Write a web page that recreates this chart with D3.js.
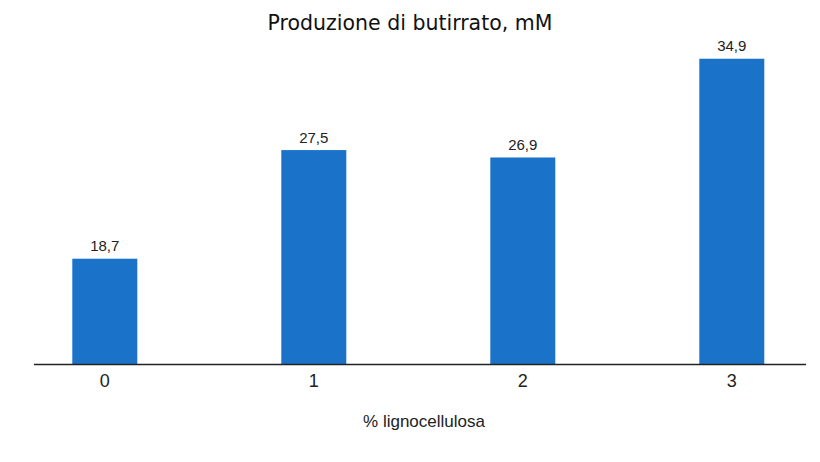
<!DOCTYPE html>
<html>
<head>
<meta charset="utf-8">
<script src="https://cdn.jsdelivr.net/npm/d3@7"></script>
<style>
  body { margin: 0; background: #fff; }
</style>
</head>
<body>
<svg id="chart"></svg>
<script>
const categories = ["0", "1", "2", "3"];
const values = [18.7, 27.5, 26.9, 34.9];
const valueLabels = ["18,7", "27,5", "26,9", "34,9"];
const title = "Produzione di butirrato, mM";
const xTitle = "% lignocellulosa";

const width = 820;
const height = 462;
const axisY = 364.5;

const svg = d3.select("#chart").attr("width", width).attr("height", height);

const xScale = d3
  .scaleBand()
  .domain(categories)
  .range([0.3, 836.3])
  .paddingInner(0.689)
  .paddingOuter(0.3445);

const yScale = d3.scaleLinear().domain([10, 35]).range([366.1, 57.5]);

// title
svg
  .append("text")
  .attr("x", 410)
  .attr("y", 30)
  .attr("text-anchor", "middle")
  .attr("font-family", "DejaVu Sans, sans-serif")
  .attr("font-size", 20.5)
  .attr("fill", "#111")
  .text(title);

// bars
svg
  .selectAll("rect.bar")
  .data(values)
  .join("rect")
  .attr("class", "bar")
  .attr("x", (_, i) => xScale(categories[i]))
  .attr("y", (d) => yScale(d))
  .attr("width", xScale.bandwidth())
  .attr("height", (d) => axisY - yScale(d))
  .attr("fill", "#1a73c9");

// value labels
svg
  .selectAll("text.val")
  .data(values)
  .join("text")
  .attr("class", "val")
  .attr("x", (_, i) => xScale(categories[i]) + xScale.bandwidth() / 2)
  .attr("y", (d) => yScale(d) - 7.5)
  .attr("text-anchor", "middle")
  .attr("font-family", "Liberation Sans, Arial, sans-serif")
  .attr("font-size", 15)
  .attr("fill", "#222")
  .text((_, i) => valueLabels[i]);

// x axis
const xAxis = svg
  .append("g")
  .attr("transform", `translate(0,${axisY})`)
  .call(d3.axisBottom(xScale).tickSize(0).tickPadding(10));
xAxis.select(".domain").attr("d", "M34,0H806").attr("stroke", "#222").attr("stroke-width", 1.3);
xAxis
  .selectAll("text")
  .attr("font-family", "Liberation Sans, Arial, sans-serif")
  .attr("font-size", 18)
  .attr("fill", "#222");

// x title
svg
  .append("text")
  .attr("x", 424)
  .attr("y", 427)
  .attr("text-anchor", "middle")
  .attr("font-family", "Liberation Sans, Arial, sans-serif")
  .attr("font-size", 17)
  .attr("fill", "#222")
  .text(xTitle);
</script>
</body>
</html>
